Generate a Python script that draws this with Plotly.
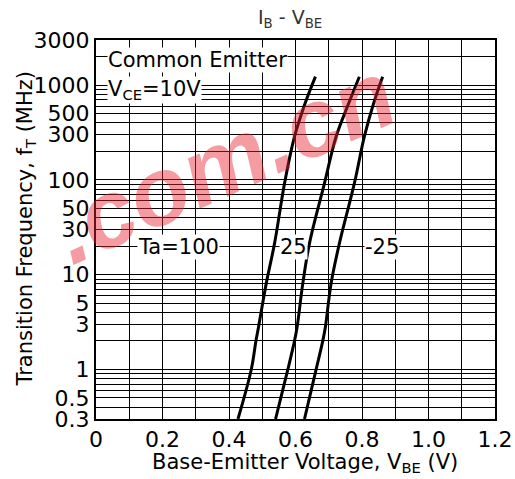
import math
import plotly.graph_objects as go

# ---- data ----
ft_values = [0.3, 1, 2, 2.83, 8.1, 21.4, 92, 286, 644, 1230]
vbe_ta100 = [0.427, 0.467, 0.481, 0.489, 0.512, 0.537, 0.567, 0.597, 0.629, 0.660]
vbe_ta25 = [0.540, 0.577, 0.597, 0.605, 0.622, 0.642, 0.687, 0.722, 0.760, 0.792]
vbe_tam25 = [0.627, 0.662, 0.682, 0.690, 0.707, 0.732, 0.777, 0.807, 0.835, 0.862]

y_tickvals = [0.3, 0.5, 1, 3, 5, 10, 30, 50, 100, 300, 500, 1000, 3000]
y_ticktext = ["0.3", "0.5", "1", "3", "5", "10", "30", "50", "100", "300", "500", "1000", "3000"]
x_tickvals = [0, 0.2, 0.4, 0.6, 0.8, 1.0, 1.2]
x_ticktext = ["0", "0.2", "0.4", "0.6", "0.8", "1.0", "1.2"]
y_minor_vals = [d * m for d in [0.1, 1, 10, 100, 1000] for m in range(1, 10) if 0.3 <= d * m <= 3000]

FONT = "DejaVu Sans, sans-serif"
TS = 22

fig = go.Figure()
for xs in [vbe_ta100, vbe_ta25, vbe_tam25]:
    fig.add_trace(go.Scatter(
        x=xs, y=ft_values, mode="lines",
        line=dict(color="black", width=3, shape="spline", smoothing=1.0),
        showlegend=False, hoverinfo="skip"))

fig.update_layout(
    width=515, height=479,
    margin=dict(l=96, r=20, t=40, b=60),
    paper_bgcolor="white", plot_bgcolor="white",
    font=dict(family=FONT, color="black", size=21),
    showlegend=False,
    xaxis=dict(
        range=[0, 1.2], tickvals=x_tickvals, ticktext=x_ticktext,
        showgrid=True, gridcolor="black", gridwidth=1,
        minor=dict(dtick=0.1, showgrid=True, gridcolor="black", gridwidth=1),
        showline=True, linecolor="black", linewidth=2, mirror=True,
        ticks="", zeroline=False, automargin=False,
        tickfont=dict(size=TS),
    ),
    yaxis=dict(
        type="log", range=[-0.5229, 3.4771],
        tickvals=y_tickvals, ticktext=y_ticktext,
        showgrid=False,
        minor=dict(tickvals=y_minor_vals, showgrid=True, gridcolor="black", gridwidth=1, ticks=""),
        showline=True, linecolor="black", linewidth=2, mirror=True,
        ticks="", zeroline=False, automargin=False,
        tickfont=dict(size=TS),
    ),
)

# watermark
fig.add_annotation(xref="paper", yref="paper", x=0.32, y=0.68, xanchor="center", yanchor="middle",
                   text="<b><i>.com.cn</i></b>", showarrow=False, textangle=-24,
                   font=dict(size=96, color="rgba(230,35,48,0.45)", family="Liberation Sans, Arial, sans-serif"))

# axis titles
fig.add_annotation(xref="paper", yref="paper", x=0.525, y=0, yshift=-44, xanchor="center", yanchor="middle",
                   text="Base-Emitter Voltage, V<sub>BE</sub> (V)", showarrow=False, font=dict(size=21))
fig.add_annotation(xref="paper", yref="paper", x=0, xshift=-71, y=0.5, xanchor="center", yanchor="middle",
                   text="Transition Frequency, f<sub>T</sub> (MHz)", showarrow=False, textangle=-90,
                   font=dict(size=21))

# labels (log axis: annotation y is given in log10 units)
def lbl(x, y, text):
    fig.add_annotation(x=x, y=math.log10(y), text=text, showarrow=False, xanchor="left", yanchor="middle",
                       bgcolor="white", font=dict(size=21), borderpad=0)

lbl(0.033, 1845, "Common Emitter")
lbl(0.033, 890, "V<sub>CE</sub>=10V")
lbl(0.123, 19.6, "Ta=100")
lbl(0.549, 19.6, "25")
lbl(0.807, 19.6, "-25")

fig.add_annotation(xref="paper", yref="paper", x=0.485, y=1.0, yshift=22, xanchor="center", yanchor="middle",
                   text="I<sub>B</sub> - V<sub>BE</sub>", showarrow=False, font=dict(size=19, color="#333333"))

fig.write_html("out.html", config={"displayModeBar": False},
               post_script="document.body.style.margin='0px';")
